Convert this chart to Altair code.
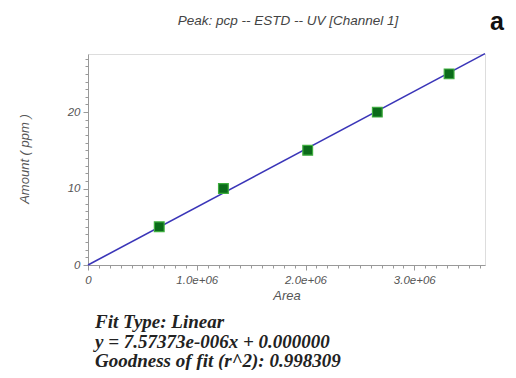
import altair as alt
import pandas as pd

# Calibration points (Area vs Amount)
areas = [655000, 1245000, 2020000, 2660000, 3320000]
amounts = [5, 10, 15, 20, 25]

# Fit line parameters and extent
slope = 7.57373e-6
intercept = 0.0
fit_x = [0, 3650000]

x_max = 3650000
y_max = 27.6

x_major = [0, 1000000, 2000000, 3000000]
y_major = [0, 10, 20]
x_minor = [i * 100000 for i in range(0, 37)]
y_minor = list(range(0, 28))

pts = pd.DataFrame({"Area": areas, "Amount": amounts})
fit = pd.DataFrame({"Area": fit_x})
one = pd.DataFrame({"k": [0]})

xscale = alt.Scale(domain=[0, x_max], nice=False, zero=True)
yscale = alt.Scale(domain=[0, y_max], nice=False, zero=True)

lab = dict(labelFont="Liberation Sans", labelFontStyle="italic", labelFontSize=11.5,
           labelColor="#555", tickColor="#999", domainColor="#999",
           labelFlush=False, labelOverlap=False, grid=False, title=None)

xaxis_major = alt.Axis(values=x_major, orient="bottom", tickSize=5, labelPadding=4,
                       labelExpr="datum.value == 0 ? '0' : format(datum.value/1000000, '.1f') + 'e+06'",
                       **lab)
yaxis_major = alt.Axis(values=y_major, orient="left", tickSize=5, labelPadding=3, **lab)
xaxis_minor = alt.Axis(values=x_minor, orient="bottom", tickSize=3, labels=False, domain=False,
                       tickColor="#999", grid=False, title=None)
yaxis_minor = alt.Axis(values=y_minor, orient="left", tickSize=3, labels=False, domain=False,
                       tickColor="#999", grid=False, title=None)

line = alt.Chart(fit).transform_calculate(
    Amount=f"{slope} * datum.Area + {intercept}"
).mark_line(color="#3a35b8", strokeWidth=1.6).encode(
    x=alt.X("Area:Q", scale=xscale, axis=xaxis_major),
    y=alt.Y("Amount:Q", scale=yscale, axis=yaxis_major),
)

points = alt.Chart(pts).mark_square(
    size=95, color="#0b6b1a", stroke="#3fae3f", strokeWidth=1.2, opacity=1
).encode(
    x=alt.X("Area:Q", scale=xscale, axis=xaxis_minor),
    y=alt.Y("Amount:Q", scale=yscale, axis=yaxis_minor),
)

data_layer = alt.layer(line, points).resolve_axis(x="independent", y="independent")

def txt(text, x, y, **kw):
    return alt.Chart(one).mark_text(**kw).encode(
        x=alt.value(x), y=alt.value(y), text=alt.value(text)
    )

title = txt("Peak: pcp -- ESTD -- UV [Channel 1]", 200, -29, font="Liberation Sans",
            fontStyle="italic", fontSize=13.5, color="#444", align="center", baseline="alphabetic")
letter = txt("a", 402, -24, font="Liberation Sans", fontWeight="bold", fontSize=25,
             color="#111", align="left", baseline="alphabetic")
xtitle = txt("Area", 199, 246, font="Liberation Sans", fontStyle="italic", fontSize=13,
             color="#555", align="center", baseline="alphabetic")
ytitle = txt("Amount ( ppm )", -63, 105, font="Liberation Sans", fontStyle="italic", fontSize=13,
             color="#555", align="center", baseline="middle", angle=270)

serif = dict(font="Liberation Serif", fontStyle="italic", fontWeight="bold", fontSize=19,
             color="#222", align="left", baseline="alphabetic")
l1 = txt("Fit Type: Linear", 7, 274, **serif)
l2 = txt("y = 7.57373e-006x + 0.000000", 7, 293.5, **serif)
l3 = txt("Goodness of fit (r^2): 0.998309", 7, 313, **serif)

chart = alt.layer(data_layer, title, letter, xtitle, ytitle, l1, l2, l3).properties(
    width=397, height=211,
    autosize=alt.AutoSizeParams(type="none"),
    padding={"left": 80, "top": 46, "right": 23, "bottom": 105},
).configure_view(stroke="#aaa", strokeWidth=1).configure(background="white")

chart.save("out.html", embed_options={"renderer": "svg", "actions": False})
